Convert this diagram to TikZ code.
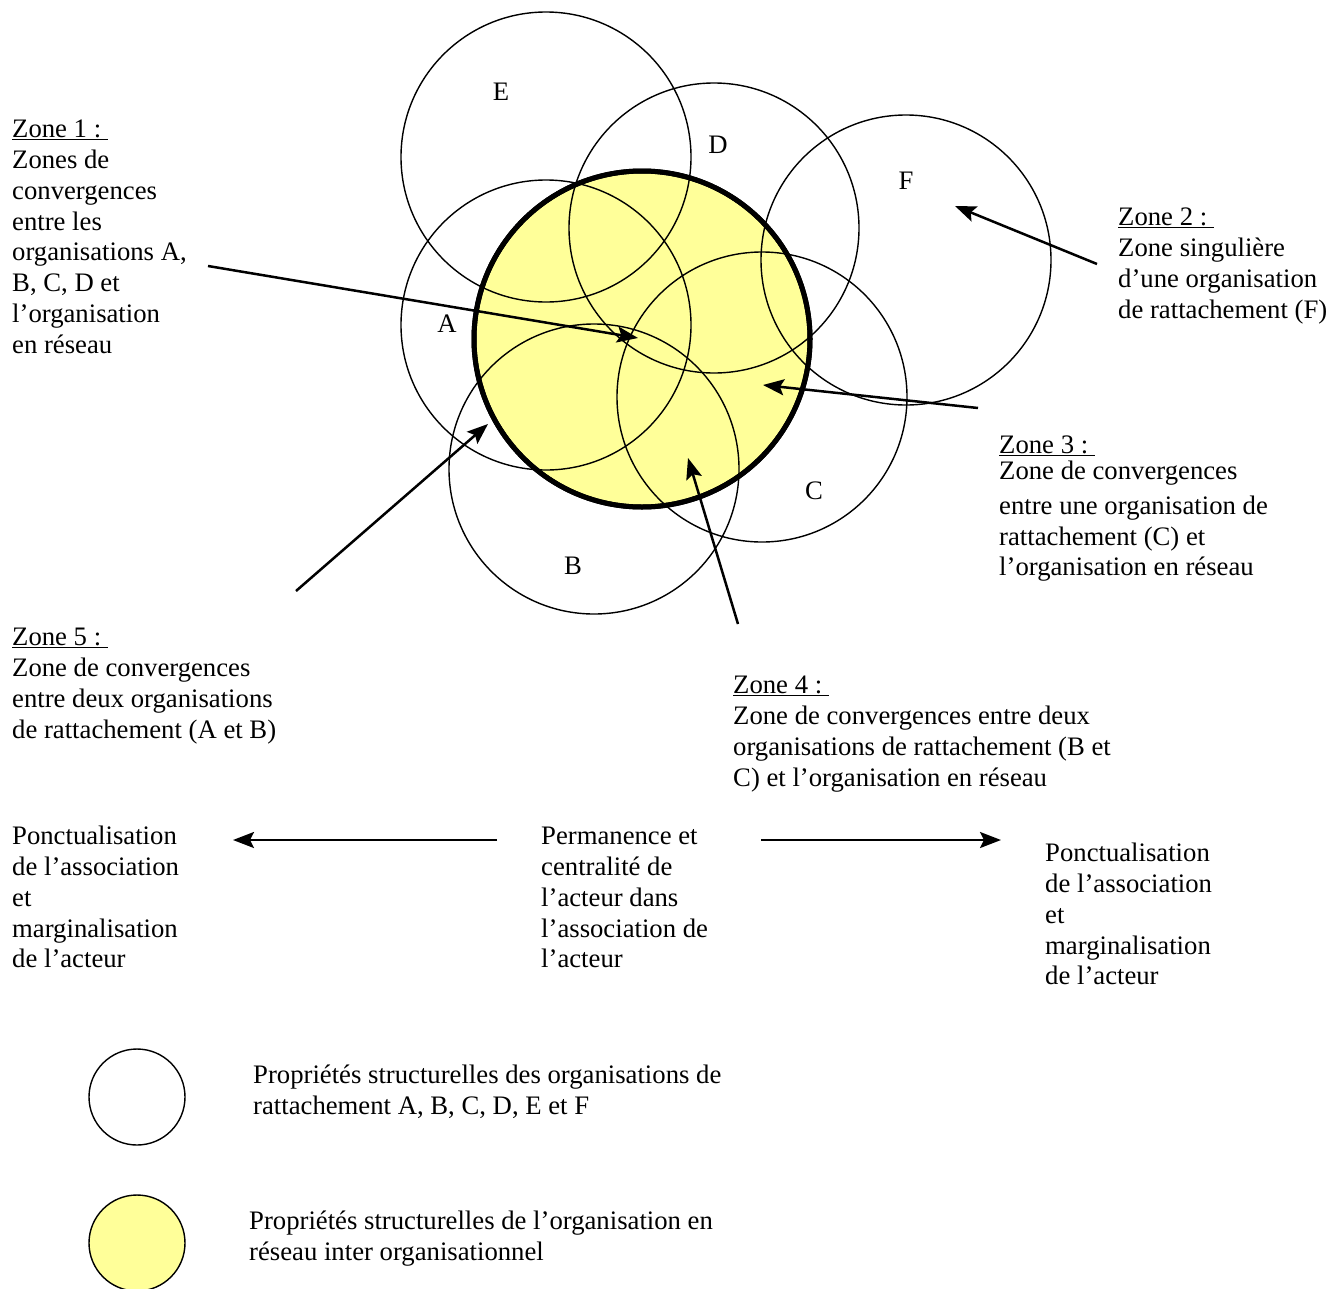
\documentclass[tikz,border=0pt]{standalone}
\usepackage{fontspec}
\setmainfont{Liberation Serif}
\usetikzlibrary{arrows.meta}
\definecolor{netyellow}{HTML}{FFFF99}
\tikzset{
  txt/.style={font=\fontsize{26.7}{30.8}\selectfont, align=left, anchor=north west, inner sep=0pt},
  lbl/.style={font=\fontsize{26.7}{30.8}\selectfont, inner sep=0pt},
  orgcircle/.style={circle, draw=black, line width=1.4pt, inner sep=0pt, minimum size=#1},
  netcircle/.style={circle, draw=black, fill=netyellow, line width=5pt, inner sep=0pt, minimum size=#1},
  pointer/.style={line width=2.5pt, -{Stealth[length=21pt,width=16pt,inset=4pt]}},
}
\begin{document}
\begin{tikzpicture}[x=1pt,y=-1pt]
\useasboundingbox (0,0) rectangle (1344,1288);

% network organisation (yellow)
\node[netcircle=336pt] (net) at (642,339) {};

% organisations de rattachement
\node[orgcircle=290pt] (cE) at (546,157) {};
\node[orgcircle=290pt] (cD) at (714,228) {};
\node[orgcircle=290pt] (cF) at (906,260) {};
\node[orgcircle=290pt] (cA) at (546,325) {};
\node[orgcircle=290pt] (cB) at (594,469) {};
\node[orgcircle=290pt] (cC) at (762,397) {};

% thick outline on top
\draw[line width=5pt] (net.center) circle[radius=168pt];

% circle labels
\node[lbl] (lE) at (501,92) {E};
\node[lbl] (lD) at (718,145) {D};
\node[lbl] (lF) at (906,181) {F};
\node[lbl] (lA) at (447,324) {A};
\node[lbl] (lC) at (814,491) {C};
\node[lbl] (lB) at (573,566) {B};

% zone texts
\node[txt] (z1) at (12,116) {\strut\underline{Zone 1 :\ }\\Zones de\\convergences\\entre les\\organisations A,\\B, C, D et\\l’organisation\\en réseau};
\node[txt] (z2) at (1118,204) {\strut\underline{Zone 2 :\ }\\Zone singulière\\d’une organisation\\de rattachement (F)};
\node[txt] (z3) at (999,432) {\strut\underline{Zone 3 :\ }\\[-5pt]Zone de convergences\\[4pt]entre une organisation de\\rattachement (C) et\\l’organisation en réseau};
\node[txt] (z4) at (733,672) {\strut\underline{Zone 4 :\ }\\Zone de convergences entre deux\\organisations de rattachement (B et\\C) et l’organisation en réseau};
\node[txt] (z5) at (12,624) {\strut\underline{Zone 5 :\ }\\Zone de convergences\\entre deux organisations\\de rattachement (A et B)};

% bottom texts
\node[txt] (pl) at (12,823) {\strut Ponctualisation\\de l’association\\et\\marginalisation\\de l’acteur};
\node[txt] (pm) at (541,823) {\strut Permanence et\\centralité de\\l’acteur dans\\l’association de\\l’acteur};
\node[txt] (pr) at (1045,840) {\strut Ponctualisation\\de l’association\\et\\marginalisation\\de l’acteur};

% legend
\node[orgcircle=96pt] (legW) at (137,1097) {};
\node[orgcircle=96pt, fill=netyellow] (legY) at (137,1243) {};
\node[txt] (legWt) at (253,1062) {\strut Propriétés structurelles des organisations de\\rattachement A, B, C, D, E et F};
\node[txt] (legYt) at (249,1208) {\strut Propriétés structurelles de l’organisation en\\réseau inter organisationnel};

% arrow end points
\coordinate (a1s) at (208,266);  \coordinate (a1e) at (638,338);
\coordinate (a2s) at (1097,264); \coordinate (a2e) at (955,206);
\coordinate (a3s) at (978,408);  \coordinate (a3e) at (763,385);
\coordinate (a4s) at (738,624);  \coordinate (a4e) at (688,458);
\coordinate (a5s) at (296,591);  \coordinate (a5e) at (488,424);
\coordinate (bls) at (497,840);  \coordinate (ble) at (233,840);
\coordinate (brs) at (761,840);  \coordinate (bre) at (1001,840);

\draw[pointer] (a1s) -- (a1e);
\draw[pointer] (a2s) -- (a2e);
\draw[pointer] (a3s) -- (a3e);
\draw[pointer] (a4s) -- (a4e);
\draw[pointer] (a5s) -- (a5e);
\draw[pointer] (bls) -- (ble);
\draw[pointer] (brs) -- (bre);
\end{tikzpicture}
\end{document}
